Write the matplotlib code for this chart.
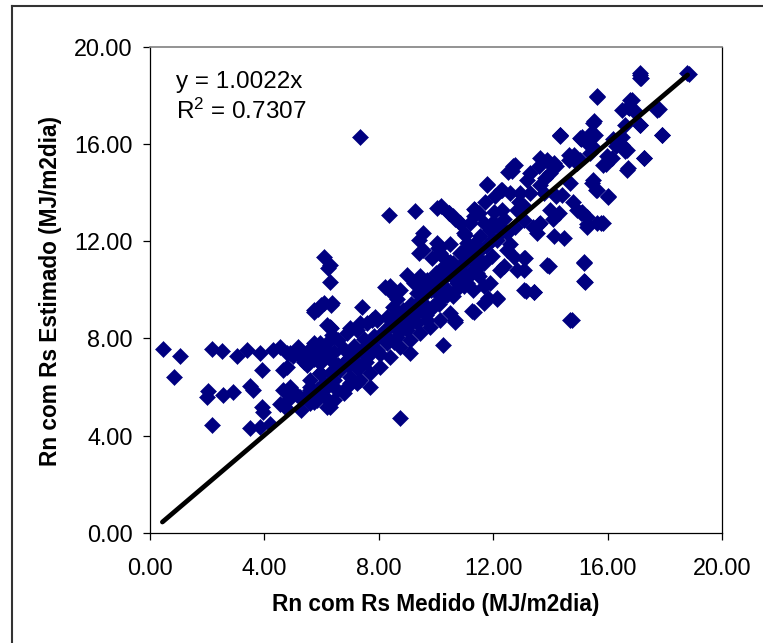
import matplotlib
matplotlib.use("Agg")
import matplotlib.pyplot as plt
from matplotlib.lines import Line2D

# ---- data ----
rn_medido = [
    # left tail
    0.48, 1.07, 0.87, 2.17, 2.52, 3.05, 3.40, 3.86, 4.33, 4.56, 4.80, 5.14, 5.50,
    3.92, 4.68, 2.00, 2.06, 2.58, 2.93, 3.52, 3.63, 3.92, 3.98, 2.17, 3.52, 3.86,
    4.21, 4.68, 4.91, 5.14, 4.85, 4.56, 4.75, 5.44, 5.61, 5.85, 6.14, 6.31, 5.73,
    6.20, 6.37, 6.08, 5.96, 6.31, 5.96, 5.30, 5.75, 5.65, 5.75, 5.90, 6.00, 6.34,
    6.34, 5.23, 5.40, 5.50, 5.60,
    # left part of the core
    6.08, 6.31, 6.22, 6.31, 6.08, 6.37, 5.73, 7.42, 6.31, 7.01, 7.36, 7.88, 8.40,
    8.75, 8.99, 9.45, 9.80, 10.04, 10.39, 10.62, 9.33, 8.52, 8.87, 9.22, 9.57,
    9.92, 10.27, 10.16, 10.68, 11.26, 10.27, 9.10, 7.70, 8.75, 4.80, 4.91, 5.26,
    5.61, 5.84, 6.20, 6.20, 6.43, 4.91, 5.20, 5.49, 5.73, 5.96, 6.31, 6.60,
    5.73, 6.08, 6.43, 6.78, 7.13, 7.48, 7.83, 8.18, 8.52, 8.87, 9.22, 9.57, 9.92,
    6.89, 7.24, 7.59, 7.94, 8.29, 8.64, 8.99,
    5.96, 6.31, 6.66, 7.01, 7.36, 7.71, 8.06, 8.40, 8.75, 9.10, 9.45, 9.80, 10.16,
    10.50,
    5.38, 5.03, 5.84, 6.54, 6.89, 7.24, 7.59, 7.94, 8.29, 8.64, 8.99, 9.33, 9.68,
    5.61, 6.08, 6.43, 6.89, 6.78, 7.24, 7.01, 6.54, 5.96, 5.61,
    6.95, 7.10, 7.30, 7.55, 7.80, 8.05, 8.30, 8.55, 8.80, 9.05, 9.35, 9.65,
    # extra fill along the fitted line
    6.60, 6.90, 7.20, 7.50, 7.75, 8.00, 8.25, 8.50, 8.70, 8.95, 9.15, 9.40, 9.60,
    9.85, 10.05, 10.30, 10.55, 10.75, 11.00, 11.25, 11.50, 11.75, 12.00, 12.30,
    10.10, 10.40, 10.70, 10.95, 11.20, 11.45, 11.70, 11.95, 9.70, 10.00, 10.30,
    # middle of the core
    11.08, 10.85, 11.31, 10.04, 10.16, 9.57, 10.62, 10.39, 10.85, 11.08, 11.31,
    11.43, 7.36, 8.38, 9.26, 10.04, 7.78, 11.69, 12.15, 13.13, 13.10, 13.17,
    13.44, 13.95, 14.70, 15.17, 15.17, 15.09, 15.30, 15.77, 16.02, 15.51, 15.60,
    16.70, 17.26, 17.89, 17.80, 15.65, 17.13, 17.18, 18.79, 16.84, 16.70, 16.50,
    16.62, 17.13, 16.96, 15.51, 15.43, 15.06, 14.33, 16.16, 15.94, 16.19,
    9.43, 9.56, 9.40, 9.87, 10.08, 10.45, 10.67, 10.84, 11.01, 10.50, 10.84,
    11.78, 12.29, 12.54, 12.71, 11.35, 11.52, 8.21, 8.46, 8.63, 9.23, 9.48,
    # upper-right cluster
    14.35, 15.10, 15.46, 15.30, 16.50, 16.30, 16.60, 14.64, 14.93, 13.65, 13.89,
    13.60, 12.78, 12.67, 13.30, 14.00, 14.20, 14.70, 15.46, 15.63, 16.00, 11.79,
    12.31, 12.60, 12.96, 12.08, 11.73, 13.65, 13.77, 13.30, 13.07, 12.84, 14.20,
    13.99, 14.30, 12.31, 12.02, 11.38, 11.32, 11.20, 10.62, 10.45, 10.85, 10.20,
    14.93, 15.10, 15.28, 15.63, 15.86, 15.28, 14.12, 14.47, 12.49, 12.78, 13.07,
    13.53, 13.65, 11.90, 12.14, 12.26, 11.67, 11.55, 10.97, 11.09, 10.50, 10.27,
    10.16, 11.32, 12.49, 12.72, 12.37, 12.84, 13.10, 13.90, 15.18, 15.20, 13.10,
    13.44, 11.84, 12.14, 11.32, 10.68, 14.76, 10.74, 10.39, 10.97, 10.50, 10.16,
    10.85, 11.20, 11.55, 11.90, 11.67, 12.26, 11.50, 11.20, 10.16, 10.27,
    17.15, 17.15, 18.84, 15.63, 16.80, 16.74, 16.97, 17.72, 17.15, 15.52, 15.05,
    15.57, 14.35, 17.90, 16.51, 16.68, 15.98, 15.86, 17.27, 16.68, 14.82, 15.05,
    14.64, 13.89, 14.12, 15.46, 15.40,
    12.90, 13.40, 13.80, 14.40, 14.80, 12.40, 13.20, 13.60, 14.10, 12.00, 12.60,
]

rn_estimado = [
    # left tail
    7.57, 7.28, 6.43, 7.56, 7.50, 7.26, 7.53, 7.39, 7.53, 7.67, 7.39, 7.46, 7.26,
    6.71, 6.71, 5.60, 5.82, 5.68, 5.78, 6.04, 5.90, 5.20, 4.99, 4.45, 4.31, 4.37,
    4.50, 5.88, 5.82, 5.68, 5.47, 5.30, 5.20, 5.60, 5.88, 5.47, 5.60, 5.20, 7.81,
    8.56, 8.15, 7.60, 7.00, 7.14, 6.60, 5.06, 5.40, 7.60, 9.10, 9.20, 9.37, 9.37,
    8.44, 7.46, 7.10, 6.90, 6.00,
    # left part of the core
    11.37, 11.03, 10.90, 10.34, 9.45, 9.45, 9.18, 9.31, 8.49, 8.42, 8.63, 8.90,
    10.14, 10.00, 10.62, 10.55, 10.28, 9.86, 9.99, 9.73, 9.86, 9.31, 9.18, 9.31,
    9.45, 9.31, 9.73, 9.59, 8.76, 9.11, 7.73, 7.39, 6.02, 4.72, 6.84, 6.02, 5.61,
    5.33, 5.88, 6.02, 5.20, 5.47, 7.39, 7.67, 7.39, 7.53, 7.80, 7.94, 7.94,
    7.16, 7.30, 7.43, 7.57, 7.70, 7.98, 8.11, 8.25, 8.53, 8.80, 8.94, 9.22, 9.35,
    8.22, 8.36, 8.63, 8.77, 8.90, 9.04, 9.18,
    6.57, 6.57, 6.71, 6.43, 6.30, 6.57, 6.84, 7.25, 7.67, 7.94, 8.22, 8.49, 8.77,
    9.04,
    7.02, 7.30, 7.43, 6.84, 7.11, 6.98, 7.25, 7.53, 7.80, 8.08, 8.36, 8.63, 8.77,
    6.30, 6.16, 6.30, 6.02, 5.75, 6.16, 6.16, 5.88, 5.75, 5.75,
    6.90, 7.35, 6.75, 7.05, 7.55, 7.35, 8.05, 7.85, 8.35, 8.55, 9.05, 8.95,
    # extra fill along the fitted line
    6.90, 7.10, 7.40, 7.60, 7.90, 8.10, 8.40, 8.60, 8.90, 9.10, 9.40, 9.50, 9.80,
    10.00, 10.20, 10.50, 10.60, 10.90, 11.10, 11.30, 11.60, 11.80, 12.10, 12.40,
    9.40, 9.80, 10.00, 10.30, 10.60, 10.90, 11.10, 11.40, 10.40, 10.70, 10.90,
    # middle of the core
    11.92, 11.51, 11.23, 11.92, 11.51, 11.65, 11.10, 10.83, 10.69, 10.28, 10.00,
    10.69, 16.29, 13.08, 13.25, 13.37, 8.78, 9.45, 9.62, 11.31, 10.80, 9.96,
    9.92, 11.00, 8.74, 11.14, 10.38, 13.16, 12.69, 12.74, 13.84, 14.51, 14.10,
    15.02, 15.44, 16.37, 17.42, 17.97, 18.90, 18.73, 18.90, 17.80, 17.52, 17.40,
    16.80, 16.80, 17.30, 16.88, 16.46, 16.20, 16.37, 15.44, 15.19, 16.20,
    12.07, 12.32, 11.50, 11.30, 11.73, 13.16, 12.90, 12.74, 12.24, 11.14, 10.97,
    14.35, 14.09, 14.85, 15.10, 13.33, 13.16, 10.13, 9.87, 9.62, 10.30, 10.13,
    # upper-right cluster
    16.31, 16.30, 16.37, 16.04, 16.30, 15.90, 15.70, 15.56, 15.21, 15.41, 15.28,
    15.08, 15.14, 14.87, 14.80, 14.80, 15.10, 14.40, 14.40, 14.10, 13.80, 14.32,
    14.12, 13.98, 13.98, 13.84, 13.63, 14.30, 13.97, 13.98, 13.43, 13.29, 13.84,
    13.29, 13.15, 13.29, 13.22, 13.29, 13.02, 12.74, 13.02, 13.15, 12.74, 13.43,
    13.29, 13.22, 13.00, 12.74, 12.74, 12.60, 12.20, 12.13, 12.33, 12.60, 12.88,
    12.33, 12.74, 12.47, 12.06, 12.60, 12.74, 12.20, 12.33, 11.78, 11.90, 11.37,
    11.78, 11.90, 11.65, 11.37, 11.00, 10.80, 11.30, 11.03, 11.10, 10.34, 10.00,
    9.93, 9.66, 9.66, 9.10, 8.69, 8.74, 10.28, 10.00, 10.14, 11.10, 10.80,
    10.80, 11.37, 11.23, 10.28, 10.14, 10.80, 10.55, 10.70, 10.00, 9.73,
    18.85, 18.71, 18.89, 17.95, 17.82, 17.48, 17.34, 17.41, 16.79, 16.93, 16.24,
    16.38, 16.38, 16.38, 15.96, 15.76, 15.49, 15.15, 15.42, 14.94, 15.56, 15.35,
    15.35, 15.35, 15.21, 15.90, 15.63,
    13.60, 12.60, 14.60, 13.90, 13.60, 12.90, 14.50, 12.70, 12.90, 12.80, 11.90,
]

slope = 1.0022
fit_x_range = [0.45, 18.80]
x_ticks = [0.0, 4.0, 8.0, 12.0, 16.0, 20.0]
y_ticks = [0.0, 4.0, 8.0, 12.0, 16.0, 20.0]
x_label = "Rn com Rs Medido (MJ/m2dia)"
y_label = "Rn com Rs Estimado (MJ/m2dia)"
eq_text = "y = 1.0022x"
r2_text = "R$^{2}$ = 0.7307"

# ---- drawing ----
plt.rcParams["font.family"] = ["Liberation Sans", "DejaVu Sans"]
plt.rcParams["mathtext.fontset"] = "custom"
plt.rcParams["mathtext.rm"] = "Liberation Sans"
plt.rcParams["mathtext.it"] = "Liberation Sans"
plt.rcParams["mathtext.default"] = "regular"

W, H = 763, 643
fig = plt.figure(figsize=(W / 100, H / 100), dpi=100)
fig.patch.set_facecolor("white")

ax_l, ax_r, ax_b, ax_t = 149.5, 722.0, 533.0, 46.7
ax = fig.add_axes([ax_l / W, 1 - ax_b / H, (ax_r - ax_l) / W, (ax_b - ax_t) / H])

ax.plot(rn_medido, rn_estimado, linestyle="none", marker="D", markersize=8.3,
        color="#000080", markeredgecolor="#000080", markeredgewidth=0.4, zorder=2)

fx = fit_x_range
fy = [slope * v for v in fx]
ax.plot(fx, fy, color="black", linewidth=3.4, solid_capstyle="round", zorder=3)

ax.set_xlim(0, 20)
ax.set_ylim(0, 20)
ax.set_xticks(x_ticks)
ax.set_yticks(y_ticks)
ax.set_xticklabels([f"{v:.2f}" for v in x_ticks])
ax.set_yticklabels([f"{v:.2f}" for v in y_ticks])
ax.tick_params(axis="both", direction="out", length=5, width=0.9, color="black",
               labelsize=16.8, labelcolor="black")
ax.tick_params(axis="x", pad=12)
ax.tick_params(axis="y", pad=7)

for side in ("left", "bottom", "right"):
    ax.spines[side].set_color("black")
    ax.spines[side].set_linewidth(0.9)
ax.spines["top"].set_color("#808080")
ax.spines["top"].set_linewidth(1.2)

ax.set_xlabel(x_label, fontsize=16.3, fontweight="bold", va="center")
ax.set_ylabel(y_label, fontsize=16.3, fontweight="bold", va="center")
ax.xaxis.set_label_coords(0.5, (ax_b - 604) / (ax_b - ax_t))
ax.yaxis.set_label_coords((51 - ax_l) / (ax_r - ax_l), (ax_b - 291) / (ax_b - ax_t))

ax.text((176 - ax_l) / (ax_r - ax_l), (ax_b - 88) / (ax_b - ax_t), eq_text,
        transform=ax.transAxes, fontsize=17.5, va="baseline", ha="left")
ax.text((176 - ax_l) / (ax_r - ax_l), (ax_b - 119) / (ax_b - ax_t), r2_text,
        transform=ax.transAxes, fontsize=17.5, va="baseline", ha="left")

# outer chart-area frame (only left and top edges are inside the picture)
fl, ft = 12 / W, 1 - 6 / H
fig.add_artist(Line2D([fl, fl], [0, ft], transform=fig.transFigure,
                      color="#333333", linewidth=1.5))
fig.add_artist(Line2D([fl, 1], [ft, ft], transform=fig.transFigure,
                      color="#333333", linewidth=1.5))

fig.savefig("out.png", dpi=100)
